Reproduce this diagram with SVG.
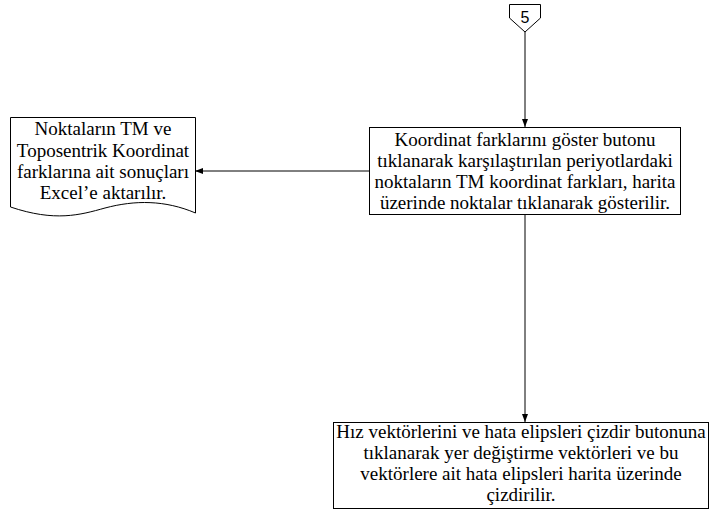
<svg xmlns="http://www.w3.org/2000/svg" width="710" height="510" viewBox="0 0 710 510">
<style>
.shape{fill:#fff;stroke:#000;stroke-width:1}
.t{font-family:"Liberation Serif","Times New Roman",serif;font-size:19px;fill:#000;text-anchor:middle}
.c{font-family:"Liberation Sans",Arial,sans-serif;font-size:16px;fill:#000;text-anchor:middle}
.ln{fill:none;stroke:#000;stroke-width:1}
</style>
<defs>
<marker id="ah" viewBox="0 0 8 6" refX="8" refY="3" markerWidth="8" markerHeight="6" markerUnits="userSpaceOnUse" orient="auto">
<path d="M0,0 L8,3 L0,6 Z" fill="#000"/>
</marker>
</defs>
<rect width="710" height="510" fill="#fff"/>
<g id="connectors">
<path class="ln" d="M525,32 V127" marker-end="url(#ah)"/>
<path class="ln" d="M369,171 H195" marker-end="url(#ah)"/>
<path class="ln" d="M525,215 V422" marker-end="url(#ah)"/>
</g>
<g id="offpage5">
<path class="shape" d="M509.5,4.5 H540.5 V18 L525,32 L509.5,18 Z"/>
<text class="c" x="525" y="23">5</text>
</g>
<g id="document">
<path class="shape" d="M10.5,117.5 H195.5 V213 C165,200 135,200 105,208 C80,215 55,222 10.5,207 Z"/>
<text class="t" x="103" y="135">Noktaların TM ve</text>
<text class="t" x="103" y="157">Toposentrik Koordinat</text>
<text class="t" x="103" y="178">farklarına ait sonuçları</text>
<text class="t" x="103" y="199">Excel’e aktarılır.</text>
</g>
<g id="process1">
<rect class="shape" x="369.5" y="127.5" width="311" height="87"/>
<text class="t" x="525" y="146">Koordinat farklarını göster butonu</text>
<text class="t" x="525" y="167">tıklanarak karşılaştırılan periyotlardaki</text>
<text class="t" x="525" y="188">noktaların TM koordinat farkları, harita</text>
<text class="t" x="525" y="209">üzerinde noktalar tıklanarak gösterilir.</text>
</g>
<g id="process2">
<rect class="shape" x="333.5" y="422.5" width="375" height="86"/>
<text class="t" x="521" y="438">Hız vektörlerini ve hata elipsleri çizdir butonuna</text>
<text class="t" x="521" y="459">tıklanarak yer değiştirme vektörleri ve bu</text>
<text class="t" x="521" y="480">vektörlere ait hata elipsleri harita üzerinde</text>
<text class="t" x="521" y="501">çizdirilir.</text>
</g>
</svg>
